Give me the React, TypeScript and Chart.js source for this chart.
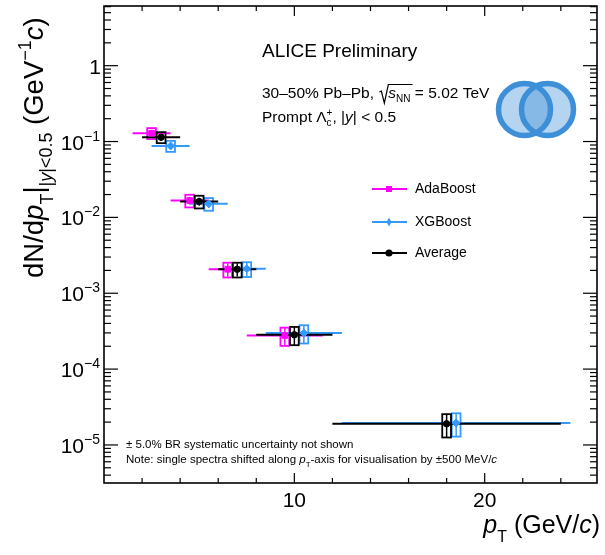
import React, { useEffect, useRef } from 'react';
import { Chart, registerables } from 'chart.js';

Chart.register(...registerables);

// ---------------- data ----------------
const binCenters = [3, 5, 7, 10, 18];
const binHalfWidths = [1, 1, 1, 2, 6];
const adaBoostShift = -0.5;
const xgBoostShift = 0.5;
const averageShift = 0;
const adaBoostValues: (number | null)[] = [0.129, 0.0167, 0.00207, 0.000277, null];
const xgBoostValues: (number | null)[] = [0.0875, 0.0151, 0.0021, 0.000298, 0.0000195];
const averageValues: (number | null)[] = [0.114, 0.0162, 0.00207, 0.000283, 0.000019];
const statRelUnc = [0.1, 0.12, 0.2, 0.27, 0.35];
const systRelUnc = [0.165, 0.19, 0.22, 0.27, 0.34];
const yMajorTicks = [1, 0.1, 0.01, 0.001, 0.0001, 0.00001];
const yTickExponents = [0, -1, -2, -3, -4, -5];
const xMajorTicks = [10, 20];
const xMajorLabels = ['10', '20'];
const xMinorTicks = [2, 4, 6, 8, 12, 14, 16, 18, 22, 24];
const legendLabels = ['AdaBoost', 'XGBoost', 'Average'];

const X_MIN = 0;
const X_MAX = 25.9;
const Y_MIN = 3.15e-6;
const Y_MAX = 6.12;

const MAGENTA = '#ff00ff';
const BLUE = '#3399ff';
const BLACK = '#000000';
const FONT = '"Liberation Sans", Arial, Helvetica, sans-serif';

const series = [
  { label: legendLabels[0], values: adaBoostValues, shift: adaBoostShift, color: MAGENTA, style: 'rect', radius: 4 },
  { label: legendLabels[1], values: xgBoostValues, shift: xgBoostShift, color: BLUE, style: 'rectRot', radius: 4 },
  { label: legendLabels[2], values: averageValues, shift: averageShift, color: BLACK, style: 'circle', radius: 3.2 },
];

type Part = { t: string; s: number; it?: boolean; dy?: number; noAdvance?: boolean };

function setFont(ctx: CanvasRenderingContext2D, size: number, italic = false) {
  ctx.font = `${italic ? 'italic ' : ''}${size}px ${FONT}`;
}
function richWidth(ctx: CanvasRenderingContext2D, parts: Part[]) {
  let w = 0;
  for (const p of parts) {
    setFont(ctx, p.s, p.it);
    if (!p.noAdvance) w += ctx.measureText(p.t).width;
  }
  return w;
}
function drawRich(ctx: CanvasRenderingContext2D, x: number, y: number, parts: Part[]) {
  let cx = x;
  for (const p of parts) {
    setFont(ctx, p.s, p.it);
    ctx.fillText(p.t, cx, y + (p.dy || 0));
    if (!p.noAdvance) cx += ctx.measureText(p.t).width;
  }
  return cx;
}
function line(ctx: CanvasRenderingContext2D, x0: number, y0: number, x1: number, y1: number) {
  ctx.beginPath();
  ctx.moveTo(x0, y0);
  ctx.lineTo(x1, y1);
  ctx.stroke();
}

const errorPlugin = {
  id: 'errorBoxes',
  beforeDatasetsDraw(chart: any) {
    const { ctx } = chart;
    const xs = chart.scales.x;
    const ys = chart.scales.y;
    ctx.save();
    series.forEach((sr) => {
      sr.values.forEach((v, i) => {
        if (v == null) return;
        const xc = binCenters[i] + sr.shift;
        const px = xs.getPixelForValue(xc);
        const py = ys.getPixelForValue(v);
        ctx.strokeStyle = sr.color;
        ctx.lineWidth = 2;
        line(ctx, xs.getPixelForValue(xc - binHalfWidths[i]), py, xs.getPixelForValue(xc + binHalfWidths[i]), py);
        const bx0 = xs.getPixelForValue(xc - 0.23);
        const bx1 = xs.getPixelForValue(xc + 0.23);
        const by0 = ys.getPixelForValue(v * (1 + systRelUnc[i]));
        const by1 = ys.getPixelForValue(v * (1 - systRelUnc[i]));
        ctx.lineWidth = 1.8;
        ctx.strokeRect(bx0, by0, bx1 - bx0, by1 - by0);
        ctx.lineWidth = 1.5;
        line(ctx, px, ys.getPixelForValue(v * (1 + statRelUnc[i])), px, ys.getPixelForValue(v * (1 - statRelUnc[i])));
      });
    });
    ctx.restore();
  },
};

const decorPlugin = {
  id: 'decor',
  afterDraw(chart: any) {
    const { ctx, chartArea } = chart;
    const { left, right, top, bottom } = chartArea;
    const xs = chart.scales.x;
    const ys = chart.scales.y;
    ctx.save();
    ctx.fillStyle = '#000';
    ctx.strokeStyle = '#000';

    // frame
    ctx.lineWidth = 1.6;
    ctx.strokeRect(left, top, right - left, bottom - top);

    // y ticks (left + right)
    ctx.lineWidth = 1.2;
    for (let k = -6; k <= 0; k++) {
      for (let m = 1; m <= 9; m++) {
        const v = m * Math.pow(10, k);
        if (v < Y_MIN || v > Y_MAX) continue;
        const py = ys.getPixelForValue(v);
        const len = m === 1 ? 14 : 7;
        line(ctx, left, py, left + len, py);
        line(ctx, right, py, right - len, py);
      }
    }
    // x ticks (bottom + top)
    xMajorTicks.forEach((t) => {
      const px = xs.getPixelForValue(t);
      line(ctx, px, bottom, px, bottom - 10);
      line(ctx, px, top, px, top + 10);
    });
    xMinorTicks.forEach((t) => {
      const px = xs.getPixelForValue(t);
      line(ctx, px, bottom, px, bottom - 5);
      line(ctx, px, top, px, top + 5);
    });

    // y tick labels
    ctx.textBaseline = 'alphabetic';
    yMajorTicks.forEach((v, i) => {
      const py = ys.getPixelForValue(v);
      const e = yTickExponents[i];
      if (e === 0) {
        setFont(ctx, 21);
        ctx.textAlign = 'right';
        ctx.fillText('1', 101, py + 8);
        ctx.textAlign = 'left';
      } else {
        const parts: Part[] = [
          { t: '10', s: 21 },
          { t: '\u2212' + String(-e), s: 14, dy: -9 },
        ];
        const w = richWidth(ctx, parts);
        ctx.textAlign = 'left';
        drawRich(ctx, 100 - w, py + 8, parts);
      }
    });
    // x tick labels
    ctx.textAlign = 'center';
    setFont(ctx, 21);
    xMajorTicks.forEach((t, i) => {
      ctx.fillText(xMajorLabels[i], xs.getPixelForValue(t), 507);
    });
    ctx.textAlign = 'left';

    // x axis title
    const xTitle: Part[] = [
      { t: 'p', s: 25, it: true },
      { t: 'T', s: 16, dy: 9 },
      { t: ' (GeV/', s: 25 },
      { t: 'c', s: 25, it: true },
      { t: ')', s: 25 },
    ];
    const xw = richWidth(ctx, xTitle);
    drawRich(ctx, 600 - xw, 533, xTitle);

    // y axis title (rotated)
    ctx.save();
    ctx.translate(43, 278);
    ctx.rotate(-Math.PI / 2);
    drawRich(ctx, 0, 0, [
      { t: 'dN/d', s: 27.5 },
      { t: 'p', s: 27.5, it: true },
      { t: 'T', s: 18, dy: 10 },
      { t: '|', s: 27.5 },
      { t: '|', s: 18, dy: 9 },
      { t: 'y', s: 18, it: true, dy: 9 },
      { t: '|<0.5', s: 18, dy: 9 },
      { t: ' (GeV', s: 27.5 },
      { t: '\u22121', s: 18, dy: -12 },
      { t: 'c', s: 27.5, it: true },
      { t: ')', s: 27.5 },
    ]);
    ctx.restore();

    // header texts
    setFont(ctx, 19);
    ctx.fillText('ALICE Preliminary', 262, 56.5);

    let cx = drawRich(ctx, 262, 98, [{ t: '30\u201350% Pb\u2013Pb, ', s: 15.5 }]);
    // radical sign
    const rx = cx + 1;
    const sStart = rx + 9;
    setFont(ctx, 15.5, true);
    const sW = ctx.measureText('s').width;
    setFont(ctx, 10);
    const nnW = ctx.measureText('NN').width;
    ctx.lineWidth = 1.2;
    ctx.beginPath();
    ctx.moveTo(rx, 92);
    ctx.lineTo(rx + 2, 91);
    ctx.lineTo(rx + 5, 103);
    ctx.lineTo(rx + 9, 84.5);
    ctx.lineTo(sStart + sW + nnW + 2, 84.5);
    ctx.stroke();
    cx = drawRich(ctx, sStart, 98, [
      { t: 's', s: 15.5, it: true },
      { t: 'NN', s: 10, dy: 4 },
      { t: ' = 5.02 TeV', s: 15.5 },
    ]);

    drawRich(ctx, 262, 121.5, [
      { t: 'Prompt ', s: 15.5 },
      { t: '\u039b', s: 15.5 },
      { t: 'c', s: 10, dy: 4, noAdvance: true },
      { t: '+', s: 10, dy: -6 },
      { t: ', |', s: 15.5 },
      { t: 'y', s: 15.5, it: true },
      { t: '| < 0.5', s: 15.5 },
    ]);

    // logo
    const circles = [
      [524.5, 109.5],
      [547.5, 109.5],
    ];
    circles.forEach(([cxx, cyy]) => {
      ctx.beginPath();
      ctx.arc(cxx, cyy, 26, 0, Math.PI * 2);
      ctx.fillStyle = 'rgba(61,143,216,0.38)';
      ctx.fill();
    });
    ctx.lineWidth = 5.5;
    ctx.strokeStyle = '#3d8fd8';
    circles.forEach(([cxx, cyy]) => {
      ctx.beginPath();
      ctx.arc(cxx, cyy, 26, 0, Math.PI * 2);
      ctx.stroke();
    });

    // legend
    const legendY = [189, 222, 253];
    series.forEach((sr, i) => {
      const ly = legendY[i];
      ctx.strokeStyle = sr.color;
      ctx.fillStyle = sr.color;
      ctx.lineWidth = 2;
      line(ctx, 372, ly, 407, ly);
      ctx.beginPath();
      if (sr.style === 'rect') {
        ctx.rect(386, ly - 3, 6, 6);
      } else if (sr.style === 'rectRot') {
        ctx.moveTo(389, ly - 4.5);
        ctx.lineTo(391.5, ly);
        ctx.lineTo(389, ly + 4.5);
        ctx.lineTo(386.5, ly);
        ctx.closePath();
      } else {
        ctx.arc(389, ly, 3.6, 0, Math.PI * 2);
      }
      ctx.fill();
      ctx.fillStyle = '#000';
      setFont(ctx, 14);
      ctx.textBaseline = 'middle';
      ctx.fillText(sr.label, 415, ly + 0.5);
      ctx.textBaseline = 'alphabetic';
    });

    // notes
    ctx.fillStyle = '#000';
    drawRich(ctx, 126, 448, [{ t: '\u00b1 5.0% BR systematic uncertainty not shown', s: 11.5 }]);
    drawRich(ctx, 126, 463, [
      { t: 'Note: single spectra shifted along ', s: 11.5 },
      { t: 'p', s: 11.5, it: true },
      { t: 'T', s: 8, dy: 4 },
      { t: '-axis for visualisation by \u00b1500 MeV/', s: 11.5 },
      { t: 'c', s: 11.5, it: true },
    ]);

    ctx.restore();
  },
};

export default function App() {
  const canvasRef = useRef<HTMLCanvasElement | null>(null);

  useEffect(() => {
    const canvas = canvasRef.current;
    if (!canvas) return;
    const datasets = series.map((sr) => ({
      label: sr.label,
      data: binCenters
        .map((c, i) => ({ x: c + sr.shift, y: sr.values[i] }))
        .filter((p) => p.y != null) as { x: number; y: number }[],
      showLine: false,
      pointStyle: sr.style as any,
      pointRadius: sr.radius,
      pointBackgroundColor: sr.color,
      pointBorderColor: sr.color,
      pointBorderWidth: 1,
    }));
    const chart = new Chart(canvas, {
      type: 'scatter',
      data: { datasets },
      options: {
        animation: false,
        responsive: false,
        devicePixelRatio: 1,
        events: [],
        layout: { padding: { left: 104, right: 8, top: 6, bottom: 72 } },
        plugins: { legend: { display: false }, tooltip: { enabled: false } },
        scales: {
          x: { type: 'linear', min: X_MIN, max: X_MAX, display: false },
          y: { type: 'logarithmic', min: Y_MIN, max: Y_MAX, display: false },
        },
      },
      plugins: [errorPlugin, decorPlugin],
    });
    return () => chart.destroy();
  }, []);

  return (
    <div style={{ position: 'fixed', left: 0, top: 0, width: 605, height: 555, background: '#fff' }}>
      <canvas ref={canvasRef} width={605} height={555} style={{ display: 'block', width: 605, height: 555 }} />
    </div>
  );
}
